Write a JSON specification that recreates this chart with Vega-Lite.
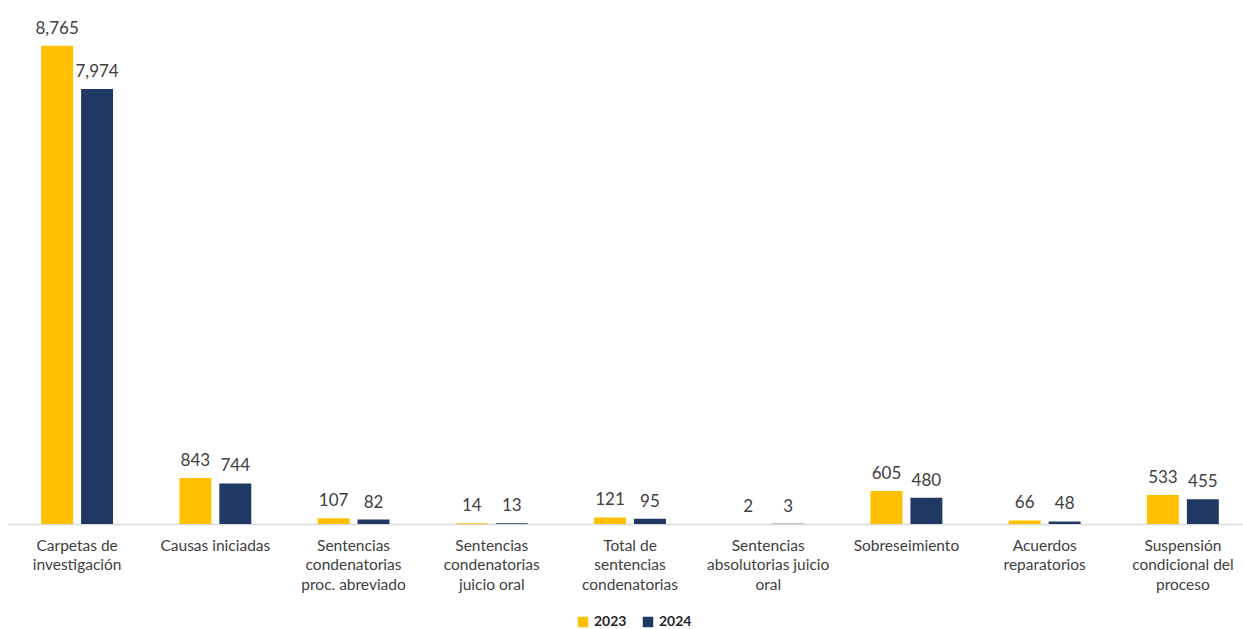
{
  "$schema": "https://vega.github.io/schema/vega-lite/v6.json",
  "width": 1244,
  "height": 491,
  "autosize": {"type": "none"},
  "padding": {"left": 8, "top": 33, "right": 0, "bottom": 105},
  "background": "white",
  "config": {"view": {"stroke": null}, "font": "Lato"},
  "data": {"values": [
    {"cat": "Carpetas de|investigación", "year": "2023", "value": 8765},
    {"cat": "Carpetas de|investigación", "year": "2024", "value": 7974},
    {"cat": "Causas iniciadas", "year": "2023", "value": 843},
    {"cat": "Causas iniciadas", "year": "2024", "value": 744},
    {"cat": "Sentencias|condenatorias|proc. abreviado", "year": "2023", "value": 107},
    {"cat": "Sentencias|condenatorias|proc. abreviado", "year": "2024", "value": 82},
    {"cat": "Sentencias|condenatorias|juicio oral", "year": "2023", "value": 14},
    {"cat": "Sentencias|condenatorias|juicio oral", "year": "2024", "value": 13},
    {"cat": "Total de|sentencias|condenatorias", "year": "2023", "value": 121},
    {"cat": "Total de|sentencias|condenatorias", "year": "2024", "value": 95},
    {"cat": "Sentencias|absolutorias juicio|oral", "year": "2023", "value": 2},
    {"cat": "Sentencias|absolutorias juicio|oral", "year": "2024", "value": 3},
    {"cat": "Sobreseimiento", "year": "2023", "value": 605},
    {"cat": "Sobreseimiento", "year": "2024", "value": 480},
    {"cat": "Acuerdos|reparatorios", "year": "2023", "value": 66},
    {"cat": "Acuerdos|reparatorios", "year": "2024", "value": 48},
    {"cat": "Suspensión|condicional del|proceso", "year": "2023", "value": 533},
    {"cat": "Suspensión|condicional del|proceso", "year": "2024", "value": 455}
  ]},
  "encoding": {
    "x": {"field": "cat", "type": "nominal", "sort": null, "title": null,
      "scale": {"paddingInner": 0.48, "paddingOuter": 0.24},
      "axis": {"labelAngle": 0, "labelExpr": "split(datum.value, '|')", "labelFontSize": 15.5, "labelColor": "#404040",
        "labelLineHeight": 19.5, "labelPadding": 14, "ticks": false, "domainColor": "#D9D9D9", "domainWidth": 1.5, "labelBaseline": "top"}},
    "xOffset": {"field": "year", "type": "nominal", "scale": {"paddingInner": 0.2}},
    "y": {"field": "value", "type": "quantitative", "scale": {"domain": [0, 9000], "nice": false}, "axis": null}
  },
  "layer": [
    {"mark": {"type": "bar"},
     "encoding": {"color": {"field": "year", "type": "nominal", "title": null,
       "scale": {"domain": ["2023", "2024"], "range": ["#FFC000", "#203864"]},
       "legend": {"orient": "none", "legendX": 568, "legendY": 582, "direction": "horizontal", "symbolType": "square", "symbolSize": 110,
         "labelFontSize": 14, "labelFontWeight": "bold", "labelColor": "#262626", "columnPadding": 14, "symbolStrokeWidth": 0}}}},
    {"mark": {"type": "text", "baseline": "bottom", "dy": -8, "fontSize": 17, "color": "#404040"},
     "encoding": {"text": {"field": "value", "type": "quantitative", "format": ","}}}
  ]
}
